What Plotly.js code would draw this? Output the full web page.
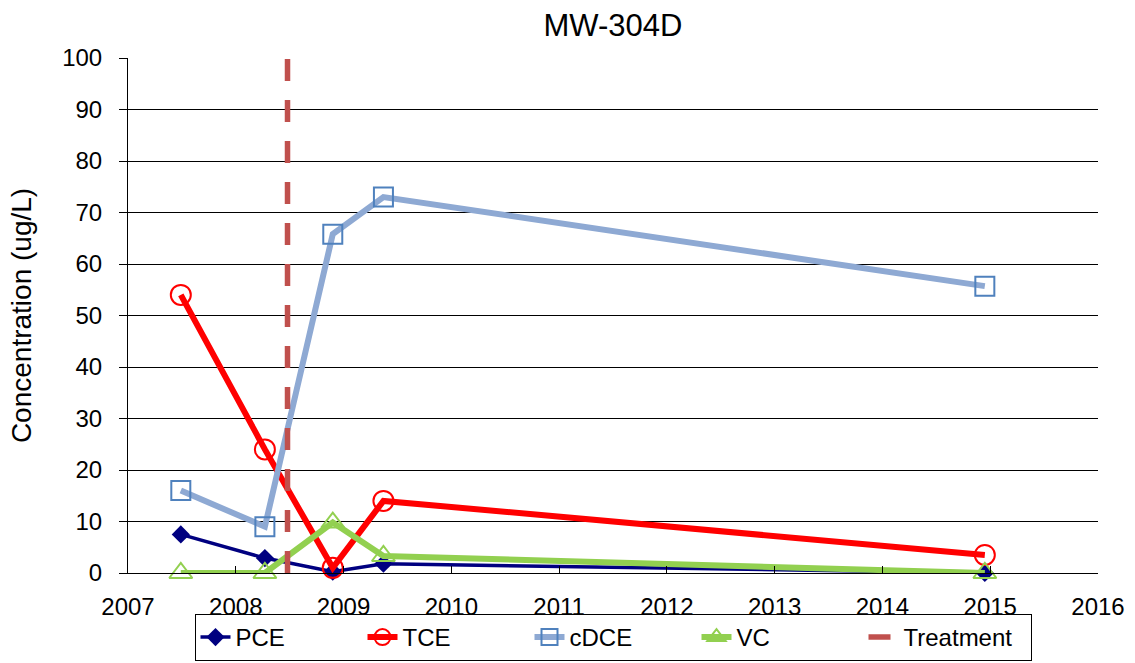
<!DOCTYPE html>
<html>
<head>
<meta charset="utf-8">
<script src="https://cdn.plot.ly/plotly-3.0.1.min.js"></script>
<style>html,body{margin:0;padding:0;background:#fff;}#chart{width:1135px;height:663px;}</style>
</head>
<body>
<div id="chart"></div>
<script>
const sampleYears = [2007.49, 2008.27, 2008.90, 2009.37, 2014.95];
const pce  = [7.5, 2.9, 0.25, 1.8, 0];
const tce  = [54, 24, 1.0, 14, 3.5];
const cdce = [16, 9, 65.8, 73, 55.7];
const vc   = [0, 0, 9.8, 3.3, 0];
const treatmentYear = [2008.48, 2008.48];
const treatmentY = [0, 100];
const xTicks = [2007, 2008, 2009, 2010, 2011, 2012, 2013, 2014, 2015, 2016];
const seriesNames = ['PCE', 'TCE', 'cDCE', 'VC', 'Treatment'];

const traces = [
  {x: sampleYears, y: pce, name: seriesNames[0], mode: 'lines+markers', cliponaxis: false,
   line: {color: '#000080', width: 3.5},
   marker: {symbol: 'diamond', size: 14, color: '#000080'}},
  {x: sampleYears, y: tce, name: seriesNames[1], mode: 'lines+markers', cliponaxis: false,
   line: {color: '#FF0000', width: 6},
   marker: {symbol: 'circle-open', size: 20, color: '#FF0000', line: {width: 2, color: '#FF0000'}}},
  {x: sampleYears, y: cdce, name: seriesNames[2], mode: 'lines+markers', cliponaxis: false,
   line: {color: '#8EA9D3', width: 6},
   marker: {symbol: 'square-open', size: 19, color: '#4F81BD', line: {width: 2, color: '#4F81BD'}}},
  {x: sampleYears, y: vc, name: seriesNames[3], mode: 'lines+markers', cliponaxis: false,
   line: {color: '#92D050', width: 6},
   marker: {symbol: 'triangle-up-open', size: 20, color: '#92D050', line: {width: 2, color: '#92D050'}}},
  {x: treatmentYear, y: treatmentY, name: seriesNames[4], mode: 'lines',
   line: {color: '#C0504D', width: 5.5, dash: '22px,19px'}}
];

const layout = {
  width: 1135, height: 663,
  margin: {l: 128, r: 37, t: 58, b: 90, autoexpand: false},
  paper_bgcolor: '#fff', plot_bgcolor: '#fff',
  font: {family: 'Liberation Sans, Arial, sans-serif', size: 24, color: '#000'},
  title: {text: 'MW-304D', font: {size: 31, color: '#000'}, x: 0.5, xanchor: 'center', xref: 'paper', y: 1 - 25/663, yanchor: 'middle'},
  xaxis: {range: [2007, 2016], tickvals: xTicks, ticktext: xTicks.map(String),
    showgrid: false, zeroline: false, showline: true, linecolor: '#000', linewidth: 1,
    ticks: 'inside', ticklen: 7, tickcolor: '#000', tickfont: {size: 24}, ticklabelstandoff: 12, fixedrange: true},
  yaxis: {range: [0, 100], dtick: 10, showgrid: true, gridcolor: '#000', gridwidth: 1,
    zeroline: false, showline: true, linecolor: '#000', linewidth: 1,
    ticks: 'outside', ticklen: 8, tickcolor: '#000', tickfont: {size: 24}, ticklabelstandoff: 12,
    title: {text: 'Concentration (ug/L)', font: {size: 28}, standoff: 22}},
  showlegend: true,
  legend: {orientation: 'h', x: 0.5, xanchor: 'center', y: -88/515, yanchor: 'bottom',
    bordercolor: '#000', borderwidth: 1, font: {size: 24}, entrywidth: 122,
    traceorder: 'normal'}
};

Plotly.newPlot('chart', traces, layout, {displayModeBar: false, staticPlot: true});
</script>
</body>
</html>
